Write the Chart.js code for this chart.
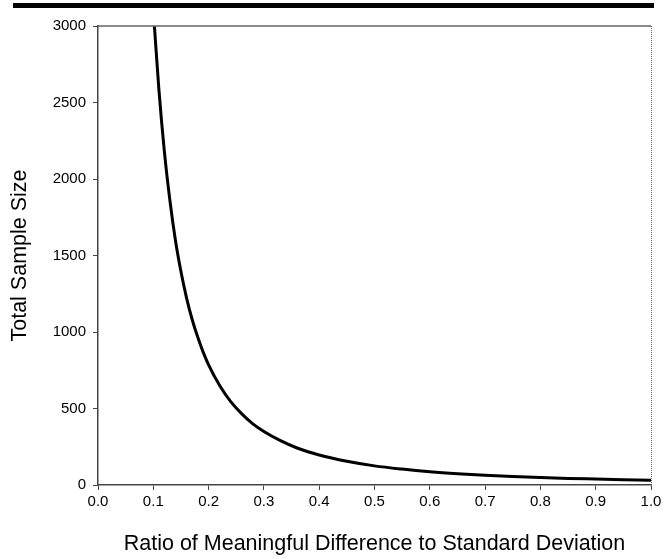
<!DOCTYPE html>
<html lang="en">
<head>
    <meta charset="UTF-8">
    <title>Total Sample Size vs Ratio</title>
    <script src="https://cdn.jsdelivr.net/npm/chart.js@4.4.0/dist/chart.umd.min.js"></script>
    <style>
        html, body { margin: 0; padding: 0; background: #fff; }
        #wrap { position: relative; width: 665px; height: 559px; }
        #topBar { position: absolute; left: 13px; top: 3px; width: 641px; height: 5px; background: #000; }
        canvas { position: absolute; left: 0; top: 0; }
    </style>
</head>
<body>
    <div id="wrap">
        <canvas id="sampleChart" width="665" height="559"></canvas>
        <div id="topBar"></div>
    </div>

    <script>
        // Values
        const ratios = [0.102, 0.11, 0.12, 0.13, 0.14, 0.15, 0.16, 0.17, 0.18, 0.19, 0.20,
                        0.22, 0.24, 0.26, 0.28, 0.30, 0.33, 0.36, 0.40, 0.45, 0.50,
                        0.55, 0.60, 0.65, 0.70, 0.75, 0.80, 0.85, 0.90, 0.95, 1.00];
        const sampleSizes = [3000, 2590, 2180, 1860, 1600, 1395, 1225, 1085, 970, 870, 785,
                             650, 545, 465, 400, 350, 290, 242, 196, 155, 125,
                             104, 87, 74, 64, 56, 49, 43, 39, 35, 31];
        const xTicks = [0, 0.1, 0.2, 0.3, 0.4, 0.5, 0.6, 0.7, 0.8, 0.9, 1.0];
        const yTicks = [0, 500, 1000, 1500, 2000, 2500, 3000];

        const axisColor = '#444';
        const font = 'Liberation Sans, Arial, sans-serif';

        // top solid line and dotted right edge of the plot frame
        const frame = {
            id: 'frame',
            afterDraw(chart) {
                const { ctx, chartArea: a } = chart;
                ctx.save();
                ctx.strokeStyle = '#666';
                ctx.lineWidth = 1.5;
                ctx.beginPath();
                ctx.moveTo(a.left, a.top);
                ctx.lineTo(a.right, a.top);
                ctx.stroke();
                ctx.setLineDash([1, 1]);
                ctx.lineWidth = 1;
                ctx.beginPath();
                ctx.moveTo(a.right + 0.5, a.top);
                ctx.lineTo(a.right + 0.5, a.bottom);
                ctx.stroke();
                ctx.restore();
            }
        };

        new Chart(document.getElementById('sampleChart'), {
            type: 'scatter',
            data: {
                datasets: [{
                    data: ratios.map((r, i) => ({ x: r, y: sampleSizes[i] })),
                    showLine: true,
                    borderColor: '#000',
                    borderWidth: 3,
                    pointRadius: 0,
                    cubicInterpolationMode: 'monotone',
                    clip: false
                }]
            },
            options: {
                responsive: false,
                animation: false,
                layout: { padding: { left: 0, right: 14, top: 26, bottom: 0 } },
                plugins: { legend: { display: false }, tooltip: { enabled: false } },
                scales: {
                    x: {
                        type: 'linear',
                        min: 0, max: 1,
                        afterBuildTicks: s => { s.ticks = xTicks.map(v => ({ value: v })); },
                        afterFit: s => { s.height = 74; s.paddingLeft = 0; s.paddingRight = 0; },
                        grid: { drawOnChartArea: false, drawTicks: true, tickLength: 5, color: axisColor },
                        border: { display: true, color: axisColor, width: 1.5 },
                        ticks: {
                            color: '#000', padding: 3,
                            font: { family: font, size: 15 },
                            callback: v => v.toFixed(1)
                        },
                        title: {
                            display: true,
                            text: 'Ratio of Meaningful Difference to Standard Deviation',
                            color: '#000',
                            font: { family: font, size: 21.5 },
                            padding: { top: 0, bottom: 2 }
                        }
                    },
                    y: {
                        min: 0, max: 3000,
                        afterBuildTicks: s => { s.ticks = yTicks.map(v => ({ value: v })); },
                        afterFit: s => { s.width = 98; s.paddingTop = 0; s.paddingBottom = 0; },
                        grid: { drawOnChartArea: false, drawTicks: true, tickLength: 5, color: axisColor },
                        border: { display: true, color: axisColor, width: 1.5 },
                        ticks: {
                            color: '#000', padding: 7,
                            font: { family: font, size: 15 },
                            callback: v => String(v)
                        },
                        title: {
                            display: true,
                            text: 'Total Sample Size',
                            color: '#000',
                            font: { family: font, size: 21.5 },
                            padding: { top: 7, bottom: 0 }
                        }
                    }
                }
            },
            plugins: [frame]
        });
    </script>
</body>
</html>
